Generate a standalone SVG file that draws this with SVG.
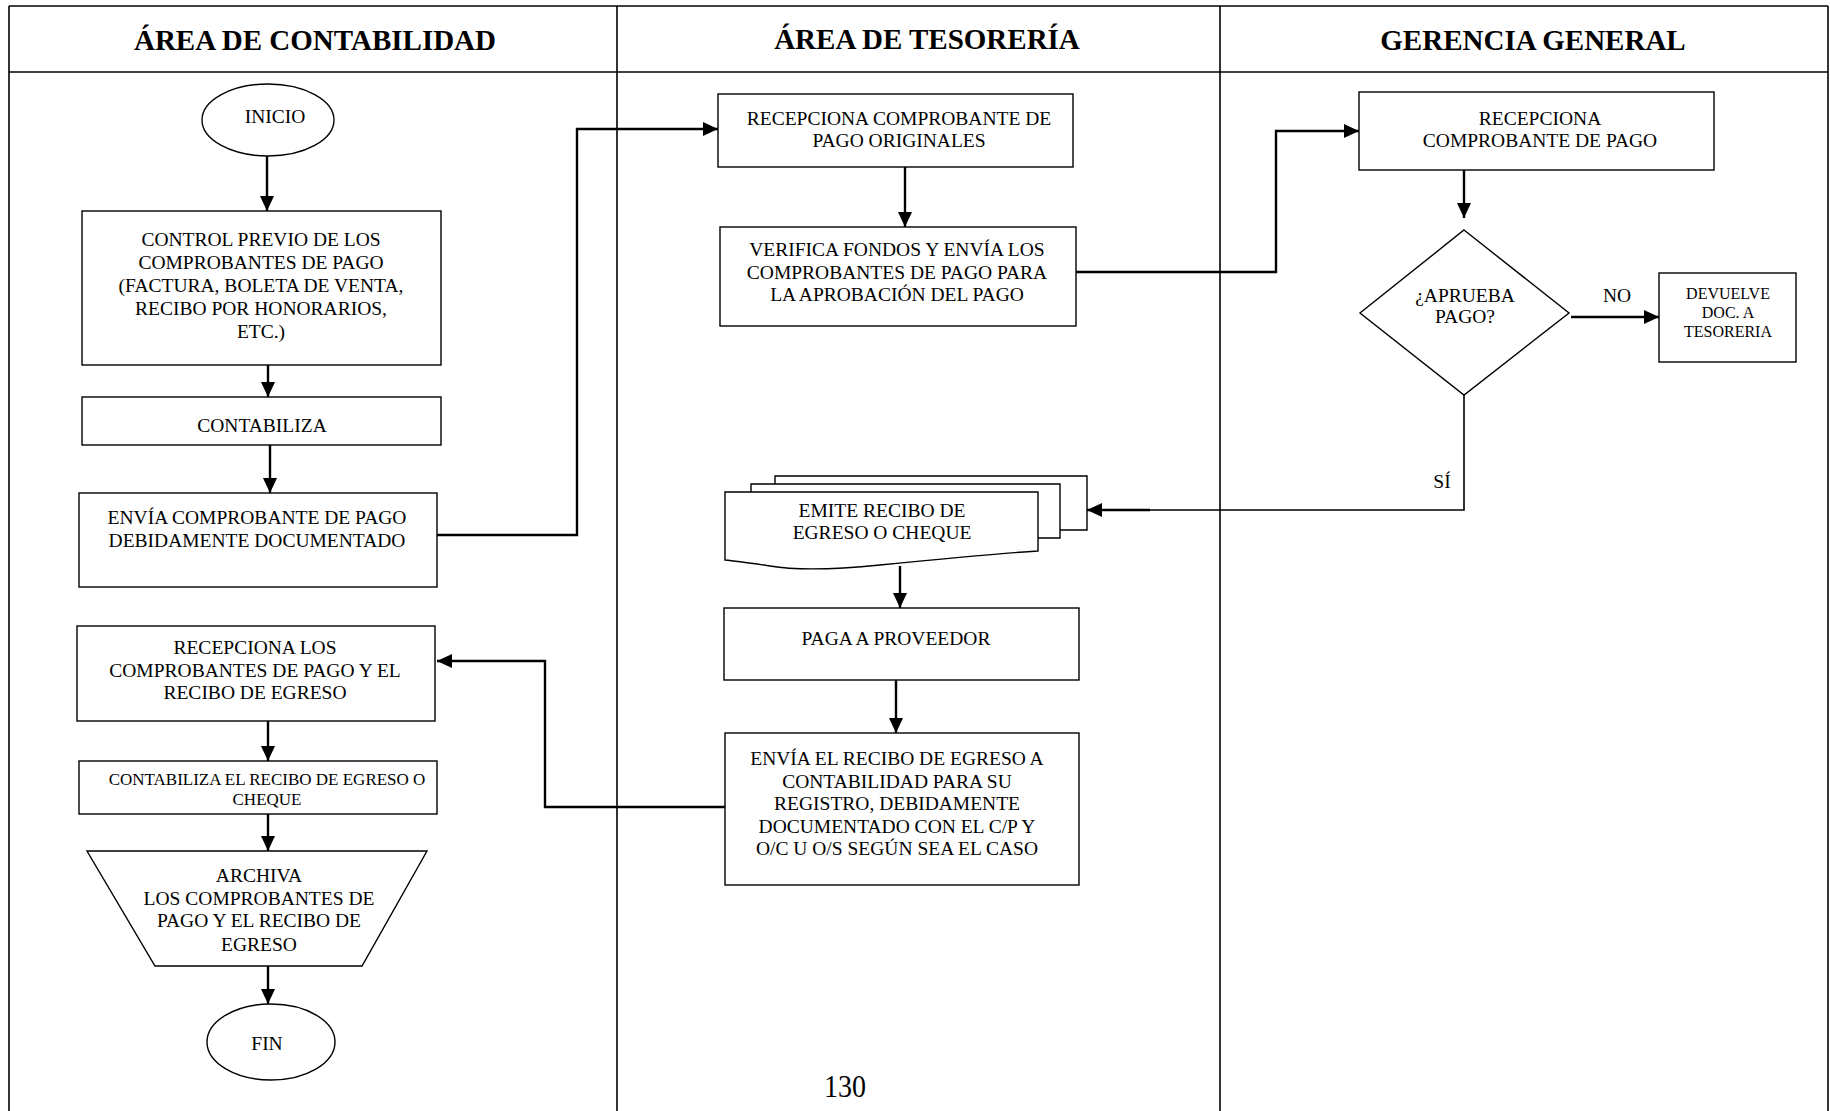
<svg xmlns="http://www.w3.org/2000/svg" width="1830" height="1111" viewBox="0 0 1830 1111">
  <style>
    .frame { fill: none; stroke: #000; stroke-width: 1.6; }
    .shape { fill: #fff; stroke: #000; stroke-width: 1.4; }
    .conn { fill: none; stroke: #000; stroke-width: 2.4; }
    .thin { fill: none; stroke: #000; stroke-width: 1.6; }
    .title { font-family: "Liberation Serif", "Times New Roman", serif; font-weight: bold; font-size: 29px; fill: #000; text-anchor: middle; }
    .t { font-family: "Liberation Serif", "Times New Roman", serif; font-size: 19.5px; fill: #000; text-anchor: middle; }
    .ts { font-family: "Liberation Serif", "Times New Roman", serif; font-size: 17px; fill: #000; text-anchor: middle; }
    .tx { font-family: "Liberation Serif", "Times New Roman", serif; font-size: 16px; fill: #000; text-anchor: middle; }
    .page { font-family: "Liberation Serif", "Times New Roman", serif; font-size: 31px; fill: #000; text-anchor: middle; }
  </style>
  <defs>
    <marker id="arrow" markerUnits="userSpaceOnUse" markerWidth="15" markerHeight="14" refX="15" refY="7" orient="auto">
      <path d="M0,0 L15,7 L0,14 Z" fill="#000"/>
    </marker>
  </defs>

  <rect width="1830" height="1111" fill="#fff"/>

  <!-- swimlane frame -->
  <g id="lanes">
    <line class="frame" x1="9" y1="6" x2="1828" y2="6"/>
    <line class="frame" x1="9" y1="72" x2="1828" y2="72"/>
    <line class="frame" x1="9" y1="6" x2="9" y2="1111"/>
    <line class="frame" x1="1828" y1="6" x2="1828" y2="1111"/>
    <line class="frame" x1="617" y1="6" x2="617" y2="1111"/>
    <line class="frame" x1="1220" y1="6" x2="1220" y2="1111"/>
    <text class="title" x="315" y="50">ÁREA DE CONTABILIDAD</text>
    <text class="title" x="927" y="49">ÁREA DE TESORERÍA</text>
    <text class="title" x="1533" y="50">GERENCIA GENERAL</text>
  </g>

  <!-- connectors -->
  <g id="connectors">
    <line class="conn" x1="267" y1="156" x2="267" y2="211" marker-end="url(#arrow)"/>
    <line class="conn" x1="268" y1="365" x2="268" y2="397" marker-end="url(#arrow)"/>
    <line class="conn" x1="270" y1="445" x2="270" y2="493" marker-end="url(#arrow)"/>
    <polyline class="conn" points="437,535 577,535 577,129 718,129" marker-end="url(#arrow)"/>
    <line class="conn" x1="905" y1="167" x2="905" y2="227" marker-end="url(#arrow)"/>
    <polyline class="conn" points="1076,272 1276,272 1276,131 1359,131" marker-end="url(#arrow)"/>
    <line class="conn" x1="1464" y1="170" x2="1464" y2="218" marker-end="url(#arrow)"/>
    <line class="conn" x1="1571" y1="317" x2="1659" y2="317" marker-end="url(#arrow)"/>
    <polyline class="thin" points="1464,395 1464,510 1150,510"/>
    <line class="conn" x1="1150" y1="510" x2="1087" y2="510" marker-end="url(#arrow)"/>
    <line class="conn" x1="900" y1="566" x2="900" y2="608" marker-end="url(#arrow)"/>
    <line class="conn" x1="896" y1="680" x2="896" y2="733" marker-end="url(#arrow)"/>
    <polyline class="conn" points="725,807 545,807 545,661 437,661" marker-end="url(#arrow)"/>
    <line class="conn" x1="268" y1="721" x2="268" y2="761" marker-end="url(#arrow)"/>
    <line class="conn" x1="268" y1="814" x2="268" y2="851" marker-end="url(#arrow)"/>
    <line class="conn" x1="268" y1="966" x2="268" y2="1004" marker-end="url(#arrow)"/>
    <text class="t" x="1617" y="302">NO</text>
    <text class="t" x="1442" y="488">SÍ</text>
  </g>

  <!-- Área de Contabilidad -->
  <g id="inicio">
    <ellipse class="shape" cx="268" cy="120" rx="66" ry="36"/>
    <text class="t" x="275" y="123">INICIO</text>
  </g>
  <g id="control-previo">
    <rect class="shape" x="82" y="211" width="359" height="154"/>
    <text class="t" x="261" y="246">CONTROL PREVIO DE LOS</text>
    <text class="t" x="261" y="269">COMPROBANTES DE PAGO</text>
    <text class="t" x="261" y="292">(FACTURA, BOLETA DE VENTA,</text>
    <text class="t" x="261" y="315">RECIBO POR HONORARIOS,</text>
    <text class="t" x="261" y="338">ETC.)</text>
  </g>
  <g id="contabiliza">
    <rect class="shape" x="82" y="397" width="359" height="48"/>
    <text class="t" x="262" y="432">CONTABILIZA</text>
  </g>
  <g id="envia-comprobante">
    <rect class="shape" x="79" y="493" width="358" height="94"/>
    <text class="t" x="257" y="524">ENVÍA COMPROBANTE DE PAGO</text>
    <text class="t" x="257" y="547">DEBIDAMENTE DOCUMENTADO</text>
  </g>
  <g id="recepciona-los">
    <rect class="shape" x="77" y="626" width="358" height="95"/>
    <text class="t" x="255" y="654">RECEPCIONA LOS</text>
    <text class="t" x="255" y="677">COMPROBANTES DE PAGO Y EL</text>
    <text class="t" x="255" y="699">RECIBO DE EGRESO</text>
  </g>
  <g id="contabiliza-recibo">
    <rect class="shape" x="79" y="761" width="358" height="53"/>
    <text class="ts" x="267" y="785">CONTABILIZA EL RECIBO DE EGRESO O</text>
    <text class="ts" x="267" y="805">CHEQUE</text>
  </g>
  <g id="archiva">
    <polygon class="shape" points="87,851 427,851 362,966 155,966"/>
    <text class="t" x="259" y="882">ARCHIVA</text>
    <text class="t" x="259" y="905">LOS COMPROBANTES DE</text>
    <text class="t" x="259" y="927">PAGO Y EL RECIBO DE</text>
    <text class="t" x="259" y="951">EGRESO</text>
  </g>
  <g id="fin">
    <ellipse class="shape" cx="271" cy="1042" rx="64" ry="38"/>
    <text class="t" x="267" y="1050">FIN</text>
  </g>

  <!-- Área de Tesorería -->
  <g id="recepciona-originales">
    <rect class="shape" x="718" y="94" width="355" height="73"/>
    <text class="t" x="899" y="125">RECEPCIONA COMPROBANTE DE</text>
    <text class="t" x="899" y="147">PAGO ORIGINALES</text>
  </g>
  <g id="verifica-fondos">
    <rect class="shape" x="720" y="227" width="356" height="99"/>
    <text class="t" x="897" y="256">VERIFICA FONDOS Y ENVÍA LOS</text>
    <text class="t" x="897" y="279">COMPROBANTES DE PAGO PARA</text>
    <text class="t" x="897" y="301">LA APROBACIÓN DEL PAGO</text>
  </g>
  <g id="emite-recibo">
    <path class="shape" d="M775,484 V476 H1087 V530 H1060"/>
    <path class="shape" d="M751,492 V484 H1060 V538 H1038"/>
    <path class="shape" d="M725,492 H1038 V551 C990,554 930,560 880,565 C840,569 800,571 770,566 C750,563 737,561 725,560 Z"/>
    <text class="t" x="882" y="517">EMITE RECIBO DE</text>
    <text class="t" x="882" y="539">EGRESO O CHEQUE</text>
  </g>
  <g id="paga-proveedor">
    <rect class="shape" x="724" y="608" width="355" height="72"/>
    <text class="t" x="896" y="645">PAGA A PROVEEDOR</text>
  </g>
  <g id="envia-recibo">
    <rect class="shape" x="725" y="733" width="354" height="152"/>
    <text class="t" x="897" y="765">ENVÍA EL RECIBO DE EGRESO A</text>
    <text class="t" x="897" y="788">CONTABILIDAD PARA SU</text>
    <text class="t" x="897" y="810">REGISTRO, DEBIDAMENTE</text>
    <text class="t" x="897" y="833">DOCUMENTADO CON EL C/P Y</text>
    <text class="t" x="897" y="855">O/C U O/S SEGÚN SEA EL CASO</text>
  </g>
  <text class="page" x="845" y="1097" textLength="42" lengthAdjust="spacingAndGlyphs">130</text>

  <!-- Gerencia General -->
  <g id="recepciona-gerencia">
    <rect class="shape" x="1359" y="92" width="355" height="78"/>
    <text class="t" x="1540" y="125">RECEPCIONA</text>
    <text class="t" x="1540" y="147">COMPROBANTE DE PAGO</text>
  </g>
  <g id="aprueba-pago">
    <polygon class="shape" points="1464,230 1569,313 1464,395 1360,313"/>
    <text class="t" x="1465" y="302">¿APRUEBA</text>
    <text class="t" x="1465" y="323">PAGO?</text>
  </g>
  <g id="devuelve-doc">
    <rect class="shape" x="1659" y="273" width="137" height="89"/>
    <text class="tx" x="1728" y="299">DEVUELVE</text>
    <text class="tx" x="1728" y="318">DOC. A</text>
    <text class="tx" x="1728" y="337">TESORERIA</text>
  </g>
</svg>
